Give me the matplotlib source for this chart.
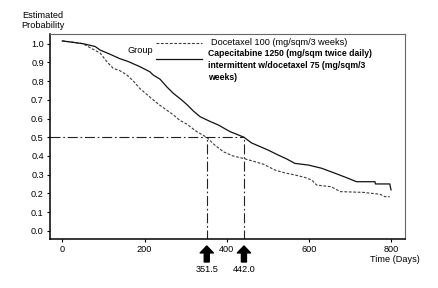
import numpy as np
import matplotlib
matplotlib.use('Agg')
import matplotlib.pyplot as plt

plt.rcParams['font.family'] = ['Liberation Sans', 'DejaVu Sans']

# Kaplan-Meier estimates
doce_days = [0, 20, 50, 75, 92, 110, 124, 140, 157, 173, 189, 205, 221, 238, 254, 270,
             286, 303, 327, 351, 370, 392, 415, 440, 469, 490, 517, 540, 566, 590, 607,
             619, 655, 676, 732, 773, 785, 797]
doce_prob = [1.015, 1.01, 1.0, 0.97, 0.95, 0.9, 0.868, 0.856, 0.833, 0.80, 0.76, 0.73,
             0.70, 0.67, 0.645, 0.62, 0.59, 0.57, 0.53, 0.50, 0.46, 0.422, 0.40, 0.387,
             0.369, 0.355, 0.325, 0.31, 0.298, 0.285, 0.271, 0.244, 0.235, 0.209, 0.205,
             0.195, 0.182, 0.182]

cape_days = [0, 51, 80, 92, 115, 140, 160, 189, 213, 221, 238, 254, 270, 290, 303, 319,
             335, 359, 380, 408, 425, 442, 460, 481, 501, 525, 545, 566, 599, 631, 664,
             690, 716, 761, 762, 797, 800]
cape_prob = [1.015, 1.0, 0.985, 0.966, 0.945, 0.92, 0.905, 0.877, 0.85, 0.833, 0.81, 0.77,
             0.735, 0.70, 0.675, 0.64, 0.61, 0.585, 0.565, 0.53, 0.515, 0.5, 0.47, 0.45,
             0.431, 0.405, 0.385, 0.36, 0.351, 0.334, 0.307, 0.285, 0.262, 0.262, 0.25,
             0.25, 0.218]

medians = [351.5, 442.0]
median_labels = ['351.5', '442.0']
x_ticks = [0, 200, 400, 600, 800]
y_ticks = [i / 10 for i in range(11)]

FS = 6.6

fig = plt.figure(figsize=(4.38, 2.88), dpi=100)
ax = fig.add_axes([50 / 438, 49 / 288, 355 / 438, 205 / 288])

ax.plot(doce_days, doce_prob, color='#3a3a3a', lw=0.8, dashes=(2.5, 1.5))
ax.plot(cape_days, cape_prob, color='#111111', lw=0.9)

# median reference lines
dd = (9, 2.5, 1.5, 2.5)
ax.plot([-30, medians[1]], [0.5, 0.5], color='#222222', lw=0.8, dashes=dd)
for m in medians:
    ax.plot([m, m], [-0.05, 0.5], color='#222222', lw=0.8, dashes=dd)

# arrows and labels under the axis
for m, lab in zip(medians, median_labels):
    ax.annotate('', xy=(m, -0.034), xytext=(m, -0.112),
                xycoords=('data', 'axes fraction'), textcoords=('data', 'axes fraction'),
                arrowprops=dict(width=3.6, headwidth=9.5, headlength=5, shrink=0,
                                color='black'), annotation_clip=False)
    ax.text(m, -0.15, lab, transform=ax.get_xaxis_transform(), ha='center',
            va='center', fontsize=FS, clip_on=False)

# legend block
ax.text(189, 0.963, 'Group', ha='center', va='center', fontsize=FS)
ax.plot([227, 339], [1.005, 1.005], color='#3a3a3a', lw=0.8, dashes=(2.5, 1.5))
ax.plot([227, 339], [0.92, 0.92], color='#111111', lw=0.9)
ax.text(363, 1.005, 'Docetaxel 100 (mg/sqm/3 weeks)', ha='left', va='center', fontsize=FS)
cape_lines = ['Capecitabine 1250 (mg/sqm twice daily)',
              'intermittent w/docetaxel 75 (mg/sqm/3', 'weeks)']
for txt, yy in zip(cape_lines, [0.949, 0.881, 0.822]):
    ax.text(355, yy, txt, ha='left', va='center', fontsize=6.2, fontweight='bold')

ax.set_xlim(-30, 834)
ax.set_ylim(-0.0444, 1.052)
ax.set_xticks(x_ticks)
ax.set_yticks(y_ticks)
ax.set_yticklabels(['%.1f' % v for v in y_ticks])
ax.tick_params(labelsize=FS, length=2.5, width=0.8, pad=2)

for s in ['left', 'bottom']:
    ax.spines[s].set_linewidth(1.1)
for s in ['top', 'right']:
    ax.spines[s].set_color('#666666')
    ax.spines[s].set_linewidth(0.8)

ax.text(0.972, -0.098, 'Time (Days)', transform=ax.transAxes, ha='center',
        va='center', fontsize=FS)
fig.text(43 / 438, 1 - 20.5 / 288, 'Estimated\nProbability', ha='center', va='center',
         fontsize=FS, linespacing=1.0)

fig.savefig('out.png', dpi=100)
